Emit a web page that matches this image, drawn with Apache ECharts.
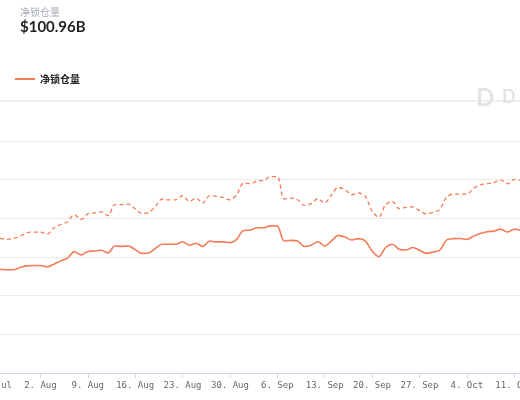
<!DOCTYPE html>
<html>
<head>
<meta charset="utf-8">
<script src="https://cdn.jsdelivr.net/npm/echarts@6/dist/echarts.min.js"></script>
<style>
  body { margin: 0; background: #fff; }
  #main { width: 520px; height: 400px; }
</style>
</head>
<body>
<div id="main"></div>
<script>
// daily values, 26 Jul .. 12 Oct
var tvl = [53.7, 53.7, 53.4, 53.4, 54.6, 55.4, 55.6, 55.6, 54.9, 56.3, 58.0, 59.4, 62.8, 61.1, 62.8, 63.1, 63.5, 62.1,
  65.7, 65.5, 65.7, 63.8, 61.9, 62.1, 64.5, 66.6, 66.6, 66.6, 67.9, 66.1, 67.1, 65.4, 68.3, 67.8, 67.8, 67.4,
  69.1, 73.7, 73.9, 75.1, 75.1, 76.1, 76.0, 68.3, 68.6, 68.3, 65.4, 66.1, 67.9, 65.7, 68.3, 71.2, 70.3, 68.8,
  69.5, 68.3, 63.1, 60.2, 64.9, 66.6, 64.0, 63.6, 64.9, 63.5, 61.9, 62.6, 63.5, 68.8, 69.5, 69.6, 69.1, 70.8,
  72.2, 73.1, 73.4, 74.4, 72.9, 74.4, 73.7];
var tvlTotal = [69.6, 69.6, 69.1, 69.6, 70.8, 72.5, 72.9, 72.9, 71.7, 75.1, 76.8, 78.2, 81.9, 79.4, 82.3, 82.8, 83.3, 81.4,
  87.1, 87.1, 87.4, 84.9, 82.5, 83.0, 86.2, 90.0, 89.5, 89.6, 91.7, 88.8, 90.5, 87.9, 91.7, 91.4, 90.8, 89.6,
  92.2, 98.2, 97.9, 99.4, 99.6, 101.6, 101.6, 90.0, 90.5, 89.6, 86.7, 87.6, 90.2, 87.9, 92.2, 96.0, 94.8, 92.2,
  93.1, 91.4, 83.7, 80.6, 87.1, 88.8, 85.0, 85.7, 85.9, 84.0, 82.3, 83.1, 84.5, 91.0, 92.5, 92.5, 92.5, 95.6,
  97.3, 97.9, 98.5, 99.9, 97.9, 100.2, 99.7];
var months = ['Jul', 'Aug', 'Sep', 'Oct'];
var startDay = 26, startMonth = 0;
var monthLen = [31, 31, 30, 31];

var dates = [];
var d = startDay, m = startMonth;
for (var i = 0; i < tvl.length; i++) {
  dates.push(d + '. ' + months[m]);
  d++;
  if (d > monthLen[m]) { d = 1; m++; }
}

var chart = echarts.init(document.getElementById('main'));
var color = '#f37b56';
chart.setOption({
  animation: false,
  graphic: [
    { type: 'text', left: 20, top: 7, style: { text: '净锁仓量', fill: '#a8adb5', font: '10px "Noto Sans CJK SC"' } },
    { type: 'text', left: 20, top: 20, style: { text: '$100.96B', fill: '#222', font: 'bold 15px Lato' } },
    { type: 'line', shape: { x1: 0, y1: 101, x2: 520, y2: 101 }, style: { stroke: '#f0f0f0', lineWidth: 2 } },
    { type: 'text', left: 476, top: 86, style: { text: 'D', fill: '#e2e4e8', font: 'bold 24px Lato' } },
    { type: 'text', left: 502, top: 88, style: { text: 'D', fill: '#e2e4e8', font: 'bold 18px Lato' } }
  ],
  legend: {
    left: 10, top: 69,
    itemWidth: 20, itemHeight: 2, icon: 'rect',
    textStyle: { fontSize: 10, color: '#222', fontWeight: 'bold', fontFamily: 'Noto Sans CJK SC' },
    data: ['净锁仓量']
  },
  grid: { left: -7, right: -1, top: 141, bottom: 27, outerBoundsMode: 'none', containLabel: false },
  xAxis: {
    type: 'category', data: dates, boundaryGap: false,
    axisLine: { lineStyle: { color: '#ccd6eb' } },
    axisTick: { interval: function (i) { return i % 7 === 0; }, lineStyle: { color: '#ccd6eb' } },
    axisLabel: {
      interval: function (i) { return i % 7 === 0; }, color: '#666',
      fontFamily: 'DejaVu Sans Mono', fontSize: 9, margin: 8, hideOverlap: false
    }
  },
  yAxis: {
    type: 'value', min: 0, max: 120, interval: 20,
    axisLabel: { show: false },
    splitLine: { lineStyle: { color: '#ebebeb' } }
  },
  series: [
    { name: '净锁仓量', type: 'line', data: tvl, smooth: 0.3, symbol: 'none',
      lineStyle: { color: color, width: 1.6 }, itemStyle: { color: color } },
    { name: 'total', type: 'line', data: tvlTotal, smooth: 0.3, symbol: 'none',
      lineStyle: { color: color, width: 1.3, type: [4, 3] }, itemStyle: { color: color } }
  ]
});
</script>
</body>
</html>
